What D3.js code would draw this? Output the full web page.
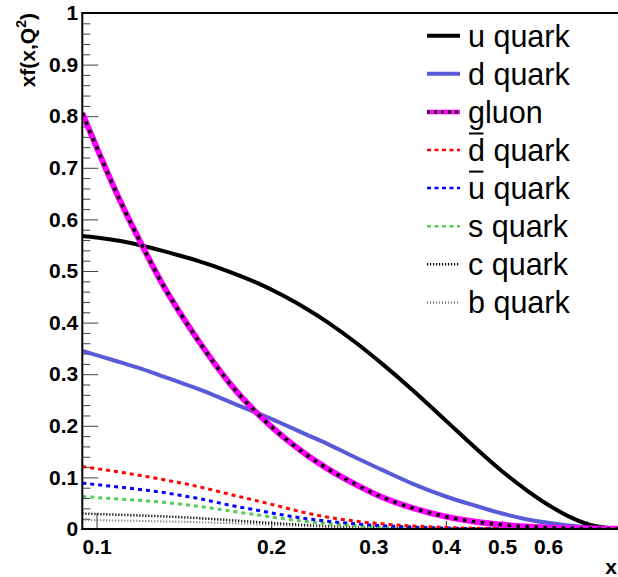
<!DOCTYPE html>
<html><head><meta charset="utf-8">
<script src="https://cdn.jsdelivr.net/npm/d3@7"></script>
<style>
html,body{margin:0;padding:0;background:#fff;}
svg{display:block;font-family:"Liberation Sans",Arial,sans-serif;}
</style></head>
<body>
<svg id="chart" width="618" height="577"></svg>
<script>
const xGrid = [0.0945,0.1,0.11,0.12,0.13,0.14,0.15,0.17,0.19,0.21,0.23,0.25,0.28,0.31,0.35,0.4,0.45,0.5,0.55,0.6,0.65,0.7,0.75,0.8];
const uQuark = [0.568,0.565,0.558,0.549,0.539,0.529,0.519,0.498,0.476,0.452,0.427,0.401,0.361,0.321,0.270,0.210,0.157,0.112,0.076,0.047,0.025,0.010,0.003,0.0005];
const dQuark = [0.345,0.337,0.323,0.310,0.296,0.283,0.271,0.246,0.224,0.203,0.183,0.165,0.138,0.115,0.088,0.063,0.045,0.030,0.019,0.012,0.007,0.004,0.002,0.001];
const gluon = [0.806,0.740,0.634,0.548,0.474,0.415,0.364,0.281,0.222,0.178,0.144,0.117,0.086,0.062,0.041,0.024,0.014,0.0082,0.0048,0.0028,0.0016,0.0009,0.0005,0.0003];
const dbarQuark = [0.121,0.117,0.110,0.103,0.096,0.089,0.082,0.067,0.054,0.042,0.031,0.023,0.015,0.010,0.006,0.003,0.0015,0.0007,0.0003,0.0001,0,0,0,0];
const ubarQuark = [0.089,0.086,0.081,0.076,0.071,0.065,0.059,0.046,0.036,0.027,0.020,0.015,0.010,0.0065,0.0038,0.0018,0.0008,0.0003,0.0001,0,0,0,0,0];
const sQuark = [0.063,0.061,0.058,0.055,0.052,0.048,0.044,0.035,0.027,0.020,0.0145,0.0105,0.0065,0.004,0.0022,0.001,0.0004,0.0002,0.0001,0,0,0,0,0];
const cQuark = [0.030,0.029,0.0275,0.026,0.0245,0.0228,0.021,0.017,0.0133,0.010,0.0074,0.0053,0.0032,0.0019,0.001,0.0004,0.0002,0.0001,0,0,0,0,0,0];
const bQuark = [0.0175,0.017,0.0163,0.0156,0.0148,0.014,0.0131,0.0112,0.0091,0.0071,0.0053,0.0039,0.0024,0.0014,0.0007,0.0003,0.0001,0,0,0,0,0,0,0];

const yTicks = [0,0.1,0.2,0.3,0.4,0.5,0.6,0.7,0.8,0.9,1];
const xMajorTicks = [0.1];
const xMinorTicks = [0.2,0.3,0.4,0.5,0.6,0.7];
const xTickLabels = ["0.1","0.2","0.3","0.4","0.5","0.6"];
const legendNames = ["u quark","d quark","gluon","d quark","u quark","s quark","c quark","b quark"];
const legendBar = [false,false,false,true,true,false,false,false];

const svg = d3.select("#chart");
const L = 82.3, R = 620.5, T = 13, B = 529;
const x = d3.scaleLog().domain([0.0945, 0.8]).range([L, R]);
const y = d3.scaleLinear().domain([0, 1]).range([B, T]);

svg.append("rect").attr("width",618).attr("height",577).attr("fill","#fff");
svg.append("defs").append("clipPath").attr("id","clip")
  .append("rect").attr("x",L).attr("y",T).attr("width",R-L).attr("height",B-T);

// y axis
const yMinor = d3.range(0, 1.0001, 0.02).map(v => +v.toFixed(2)).filter(v => !yTicks.some(t => Math.abs(t-v)<1e-6));
const gyMinor = svg.append("g").attr("transform",`translate(${L},0)`)
  .call(d3.axisLeft(y).tickValues(yMinor).tickSizeInner(-8).tickSizeOuter(0).tickFormat(""));
const gy = svg.append("g").attr("transform",`translate(${L},0)`)
  .call(d3.axisLeft(y).tickValues(yTicks).tickSizeInner(-16).tickSizeOuter(0).tickPadding(4)
    .tickFormat(d => d3.format("~g")(d)));
[gyMinor, gy].forEach(g => {
  g.select(".domain").remove();
  g.selectAll("line").attr("stroke","#444").attr("stroke-width",1);
});
gy.selectAll("text").attr("font-size",21).attr("font-weight","bold").attr("fill","#000")
  .attr("font-family","'Liberation Sans',Arial,sans-serif");

// x axis
const gxMinor = svg.append("g").attr("transform",`translate(0,${B})`)
  .call(d3.axisBottom(x).tickValues(xMinorTicks).tickSizeInner(-8).tickSizeOuter(0).tickPadding(10)
    .tickFormat(d => { const s = d3.format("~g")(d); return xTickLabels.includes(s) ? s : ""; }));
const gxMajor = svg.append("g").attr("transform",`translate(0,${B})`)
  .call(d3.axisBottom(x).tickValues(xMajorTicks).tickSizeInner(-16).tickSizeOuter(0).tickPadding(10)
    .tickFormat(d => d3.format("~g")(d)));
[gxMinor, gxMajor].forEach(g => {
  g.select(".domain").remove();
  g.selectAll("line").attr("stroke","#333").attr("stroke-width",1);
  g.selectAll("text").attr("font-size",21).attr("font-weight","bold").attr("fill","#000")
    .attr("font-family","'Liberation Sans',Arial,sans-serif");
});

// curves
const series = [
  {vals: cQuark, stroke:"#000", w:2.5, dash:"1.2,1.8"},
  {vals: bQuark, stroke:"#666", w:2, dash:"1,2"},
  {vals: sQuark, stroke:"#55cc55", w:3, dash:"4,4"},
  {vals: ubarQuark, stroke:"#0000ff", w:3, dash:"4,4"},
  {vals: dbarQuark, stroke:"#ff0000", w:3, dash:"4,4"},
  {vals: dQuark, stroke:"#5a5ad8", w:4, dash:null},
  {vals: uQuark, stroke:"#000", w:4, dash:null},
  {vals: gluon, stroke:"#ff00ff", w:6, dash:null},
  {vals: gluon, stroke:"#000", w:3.5, dash:"3.5,5.5"}
];
const line = d3.line().x(d => x(d[0])).y(d => y(d[1])).curve(d3.curveMonotoneX);
const gc = svg.append("g").attr("clip-path","url(#clip)");
series.forEach(s => {
  gc.append("path").attr("d", line(xGrid.map((xv,i) => [xv, s.vals[i]])))
    .attr("fill","none").attr("stroke",s.stroke).attr("stroke-width",s.w)
    .attr("stroke-dasharray", s.dash);
});

// frame
svg.append("line").attr("x1",L).attr("x2",L).attr("y1",T-1).attr("y2",B+1).attr("stroke","#000").attr("stroke-width",2);
svg.append("line").attr("x1",L-1).attr("x2",R).attr("y1",B).attr("y2",B).attr("stroke","#000").attr("stroke-width",2);
svg.append("line").attr("x1",L-1).attr("x2",R).attr("y1",T).attr("y2",T).attr("stroke","#000").attr("stroke-width",2);
svg.append("line").attr("x1",R).attr("x2",R).attr("y1",T).attr("y2",B).attr("stroke","#000").attr("stroke-width",2);

// axis titles
svg.append("text").attr("x",617).attr("y",574).attr("text-anchor","end")
  .attr("font-size",21).attr("font-weight","bold").text("x");
const yt = svg.append("text").attr("transform","translate(35,13) rotate(-90)")
  .attr("text-anchor","end").attr("font-size",21).attr("font-weight","bold");
yt.append("tspan").text("xf(x,Q");
yt.append("tspan").attr("font-size",14).attr("dy",-9).text("2");
yt.append("tspan").attr("dy",9).text(")");

// legend
const legendStyles = [
  [{stroke:"#000", w:4, dash:null}],
  [{stroke:"#5a5ad8", w:4, dash:null}],
  [{stroke:"#ff00ff", w:4.5, dash:null},{stroke:"#000", w:3, dash:"3,4"}],
  [{stroke:"#ff0000", w:2.5, dash:"4,3.5"}],
  [{stroke:"#0000ff", w:2.5, dash:"4,3.5"}],
  [{stroke:"#55cc55", w:2.5, dash:"4,3.5"}],
  [{stroke:"#000", w:2.5, dash:"1.2,1.8"}],
  [{stroke:"#666", w:2, dash:"1,2"}]
];
const lg = svg.append("g");
legendNames.forEach((name, i) => {
  const ly = 35.7 + 38.1*i;
  legendStyles[i].forEach(st => {
    lg.append("line").attr("x1",427).attr("x2",460).attr("y1",ly).attr("y2",ly)
      .attr("stroke",st.stroke).attr("stroke-width",st.w).attr("stroke-dasharray",st.dash);
  });
  const t = lg.append("text").attr("x",468).attr("y",ly+11).attr("font-size",30.5).attr("fill","#000").text(name);
  if (legendBar[i]) {
    const w = t.node().getSubStringLength(0,1);
    lg.append("line").attr("x1",468+1).attr("x2",468+w-1.5)
      .attr("y1",ly+11-27.5).attr("y2",ly+11-27.5).attr("stroke","#000").attr("stroke-width",2);
  }
});
</script>
</body></html>
